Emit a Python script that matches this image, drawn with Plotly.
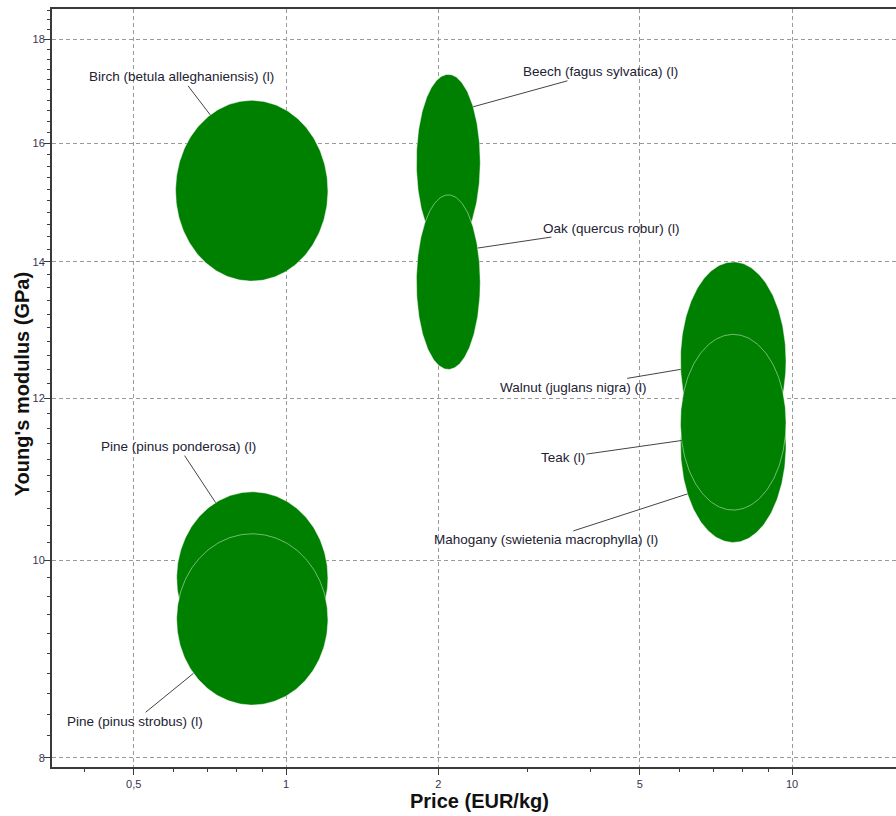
import numpy as np
import plotly.graph_objects as go

# Wood species (longitudinal) with their property ranges
materials = [
    "Birch (betula alleghaniensis) (l)",
    "Beech (fagus sylvatica) (l)",
    "Oak (quercus robur) (l)",
    "Walnut (juglans nigra) (l)",
    "Mahogany (swietenia macrophylla) (l)",
    "Teak (l)",
    "Pine (pinus ponderosa) (l)",
    "Pine (pinus strobus) (l)",
]
price_low = [0.605, 1.81, 1.81, 6.02, 6.02, 6.02, 0.608, 0.608]      # EUR/kg
price_high = [1.21, 2.42, 2.42, 9.73, 9.73, 9.73, 1.21, 1.21]        # EUR/kg
modulus_low = [13.7, 14.2, 12.4, 11.2, 10.2, 10.58, 8.89, 8.49]      # GPa
modulus_high = [16.8, 17.3, 15.1, 14.0, 12.7, 12.9, 10.8, 10.3]      # GPa

# Axis ticks
x_ticks = [0.5, 1, 2, 5, 10]
x_ticktext = ["0,5", "1", "2", "5", "10"]
x_minor = [0.4, 0.6, 0.7, 0.8, 0.9, 3, 4, 6, 7, 8, 9]
y_ticks = [8, 10, 12, 14, 16, 18]
y_ticktext = ["8", "10", "12", "14", "16", "18"]
y_minor = [round(8 + 0.2 * i, 1) for i in range(54) if round(8 + 0.2 * i, 1) not in y_ticks]

# Label placement: angle on the bubble edge (deg) and text offset (px)
label_angle = [123, 39, 23, 185, 210, 192, 119, 219]
label_dx = [-29, 127, 134, -107, -142, -119, -37, -59]
label_dy = [-38, -35, -20, 18, 46, 17, -56, 48]

FONT = "Liberation Sans, Arial, sans-serif"
FILL = "#008000"
EDGE = "rgba(255,255,255,0.45)"

fig = go.Figure()
annotations = []
t = np.linspace(0, 2 * np.pi, 241)
for i, name in enumerate(materials):
    lx0, lx1 = np.log10(price_low[i]), np.log10(price_high[i])
    ly0, ly1 = np.log10(modulus_low[i]), np.log10(modulus_high[i])
    cx, rx = (lx0 + lx1) / 2, (lx1 - lx0) / 2
    cy, ry = (ly0 + ly1) / 2, (ly1 - ly0) / 2
    fig.add_trace(go.Scatter(
        x=10 ** (cx + rx * np.cos(t)),
        y=10 ** (cy + ry * np.sin(t)),
        mode="lines",
        fill="toself",
        fillcolor=FILL,
        line=dict(color=EDGE, width=1),
        name=name,
        hoverinfo="name",
        showlegend=False,
    ))
    a = np.deg2rad(label_angle[i])
    annotations.append(dict(
        x=cx + rx * np.cos(a),
        y=cy + ry * np.sin(a),
        xref="x", yref="y",
        text=name,
        showarrow=True,
        arrowhead=0,
        arrowwidth=1,
        arrowcolor="#444444",
        ax=label_dx[i],
        ay=label_dy[i],
        font=dict(family=FONT, size=13.5, color="#222233"),
    ))

# Axis titles
annotations.append(dict(
    text="<b>Price (EUR/kg)</b>", xref="paper", yref="paper",
    x=0.506, y=-0.045, xanchor="center", yanchor="middle", showarrow=False,
    font=dict(family=FONT, size=20, color="#111111"),
))
annotations.append(dict(
    text="<b>Young's modulus (GPa)</b>", xref="paper", yref="paper",
    x=-0.0355, y=0.505, xanchor="center", yanchor="middle", showarrow=False,
    textangle=-90, font=dict(family=FONT, size=20, color="#111111"),
))

axis_common = dict(
    type="log",
    showline=True,
    linecolor="#3a3a3a",
    linewidth=2,
    ticks="outside",
    ticklen=6,
    tickwidth=1,
    tickcolor="#3a3a3a",
    tickfont=dict(family=FONT, size=11, color="#3a3350"),
    showgrid=True,
    gridcolor="#9a9a9a",
    gridwidth=1,
    griddash="4px,3px",
    zeroline=False,
)

fig.update_layout(
    width=896,
    height=816,
    margin=dict(l=52, r=0, t=9, b=49),
    paper_bgcolor="white",
    plot_bgcolor="white",
    annotations=annotations,
    xaxis=dict(
        axis_common,
        range=[-0.4625, 1.2055],
        tickmode="array",
        tickvals=x_ticks,
        ticktext=x_ticktext,
        mirror=True,
        minor=dict(tickmode="array", tickvals=x_minor, ticks="outside", ticklen=3,
                   tickcolor="#3a3a3a", showgrid=False),
    ),
    yaxis=dict(
        axis_common,
        range=[0.89853, 1.2701],
        tickmode="array",
        tickvals=y_ticks,
        ticktext=y_ticktext,
        ticklabelstandoff=-3,
        minor=dict(tickmode="array", tickvals=y_minor, ticks="outside", ticklen=3,
                   tickcolor="#3a3a3a", showgrid=False),
    ),
)

fig.write_html("out.html")
